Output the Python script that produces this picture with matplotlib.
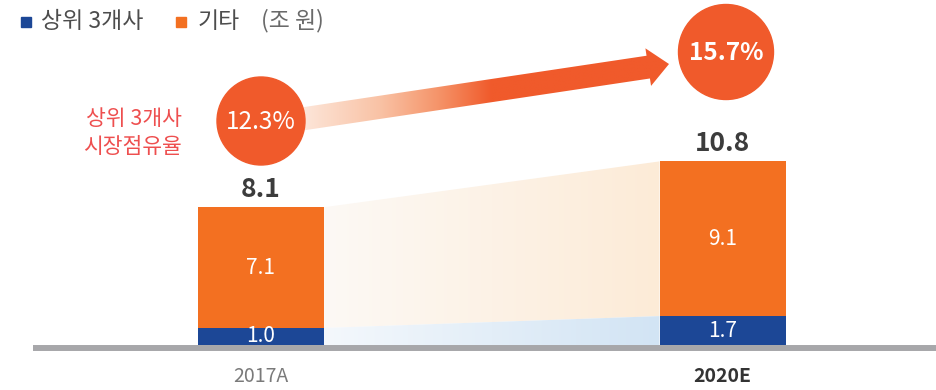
import numpy as np
import matplotlib
matplotlib.use("Agg")
import matplotlib.pyplot as plt
from matplotlib.patches import Circle, FancyArrow, Polygon, Rectangle
from matplotlib.colors import LinearSegmentedColormap

plt.rcParams['font.family'] = ['Noto Sans CJK KR', 'DejaVu Sans']

# 시장 규모 (조 원)
years = ['2017A', '2020E']
top3 = [1.0, 1.7]
others = [7.1, 9.1]
totals = [8.1, 10.8]
share = ['12.3%', '15.7%']

BLUE = '#1c4796'
ORANGE = '#f37021'
RED = '#f05a2b'

W, H = 937, 390
fig = plt.figure(figsize=(W / 100, H / 100), dpi=100)

# 막대 영역: 픽셀 기준으로 축 범위 맞춤
ax = fig.add_axes([0, 0, 1, 1])
ax.axis('off')
x = np.arange(len(years))
gap_px = 462.0
px_per_unit = 17.0
base_px = 45.0          # 아래에서부터 기준선 위치
left_px = 260.5
bar_w = 126 / gap_px

ax.bar(x, top3, width=bar_w, color=BLUE, zorder=3)
ax.bar(x, others, bottom=top3, width=bar_w, color=ORANGE, zorder=3)

# 막대 사이 그라데이션 띠
xa, xb = x[0] + bar_w / 2, x[1] - bar_w / 2
def band(y_top, y_bot, c0, c1):
    poly = Polygon([(xa, y_top[0]), (xb, y_top[1]), (xb, y_bot[1]), (xa, y_bot[0])],
                   closed=True, facecolor='none', edgecolor='none')
    ax.add_patch(poly)
    cmap = LinearSegmentedColormap.from_list('b', [c0, c1])
    grad = np.linspace(0, 1, 256).reshape(1, -1)
    im = ax.imshow(grad, extent=(xa, xb, min(y_bot), max(y_top)), cmap=cmap,
                   aspect='auto', zorder=1, interpolation='bilinear')
    im.set_clip_path(poly)

band(totals, top3, '#fdf9f5', '#fcebd7')
band(top3, [0, 0], '#f4f8fc', '#d2e4f4')

for i in x:
    ax.text(i, top3[i] / 2, f'{top3[i]:.1f}', ha='center', va='center',
            color='white', fontsize=15, zorder=4)
    ax.text(i, top3[i] + others[i] / 2, f'{others[i]:.1f}', ha='center', va='center',
            color='white', fontsize=15, zorder=4)
    ax.text(i, totals[i] + 0.25, f'{totals[i]:.1f}', ha='center', va='bottom',
            color='#3c3c3c', fontsize=19, fontweight='bold', zorder=4)

ax.text(x[0], -1.85, years[0], ha='center', va='center', fontsize=14, color='#7a7a7a')
ax.text(x[1], -1.85, years[1], ha='center', va='center', fontsize=14,
        color='#333333', fontweight='bold')

ax.set_xlim(-left_px / gap_px, (W - left_px) / gap_px)
ax.set_ylim(-base_px / px_per_unit, (H - base_px) / px_per_unit)

# 장식 레이어 (픽셀 좌표)
deco = fig.add_axes([0, 0, 1, 1])
deco.set_xlim(0, W)
deco.set_ylim(H, 0)
deco.axis('off')
deco.patch.set_alpha(0)

deco.plot([33, W], [348, 348], color='#a7a7aa', lw=4.3, solid_capstyle='butt')

# 점유율 증가 화살표
arrow = FancyArrow(298, 119.6, 371, -55.6, width=23, head_width=38, head_length=21,
                   length_includes_head=True, facecolor='none', edgecolor='none')
deco.add_patch(arrow)
acmap = LinearSegmentedColormap.from_list(
    'a', [(0, '#fde8dc'), (0.22, '#f9c2a5'), (0.38, '#f59368'), (0.52, RED), (1, RED)])
grad = np.linspace(0, 1, 256).reshape(1, -1)
im = deco.imshow(grad, extent=(298, 670, 135, 40), cmap=acmap, aspect='auto',
                 interpolation='bilinear', zorder=2)
im.set_clip_path(arrow)

circles = [(261, 121, 44), (726, 52, 47.5)]
for (cx, cy, r), s, wt in zip(circles, share, ['light', 'bold']):
    deco.add_patch(Circle((cx, cy), r, color=RED, zorder=3))
    deco.text(cx, cy + 1, s, ha='center', va='center', color='white',
              fontsize=17.5, fontweight=wt, zorder=4)

deco.text(182, 133, '상위 3개사\n시장점유율', ha='right', va='center', color='#ee4f4f',
          fontsize=15.5, linespacing=1.3)

# 범례
deco.add_patch(Rectangle((21, 17), 10, 9.5, color=BLUE))
deco.text(41, 21, '상위 3개사', ha='left', va='center', fontsize=16.5, color='#4d4d4d')
deco.add_patch(Rectangle((176, 17), 10, 9.5, color=ORANGE))
deco.text(198, 21, '기타', ha='left', va='center', fontsize=16.5, color='#4d4d4d')
deco.text(261, 21, '(조 원)', ha='left', va='center', fontsize=16.5, color='#6a6a6a')

fig.savefig('out.png', dpi=100)
